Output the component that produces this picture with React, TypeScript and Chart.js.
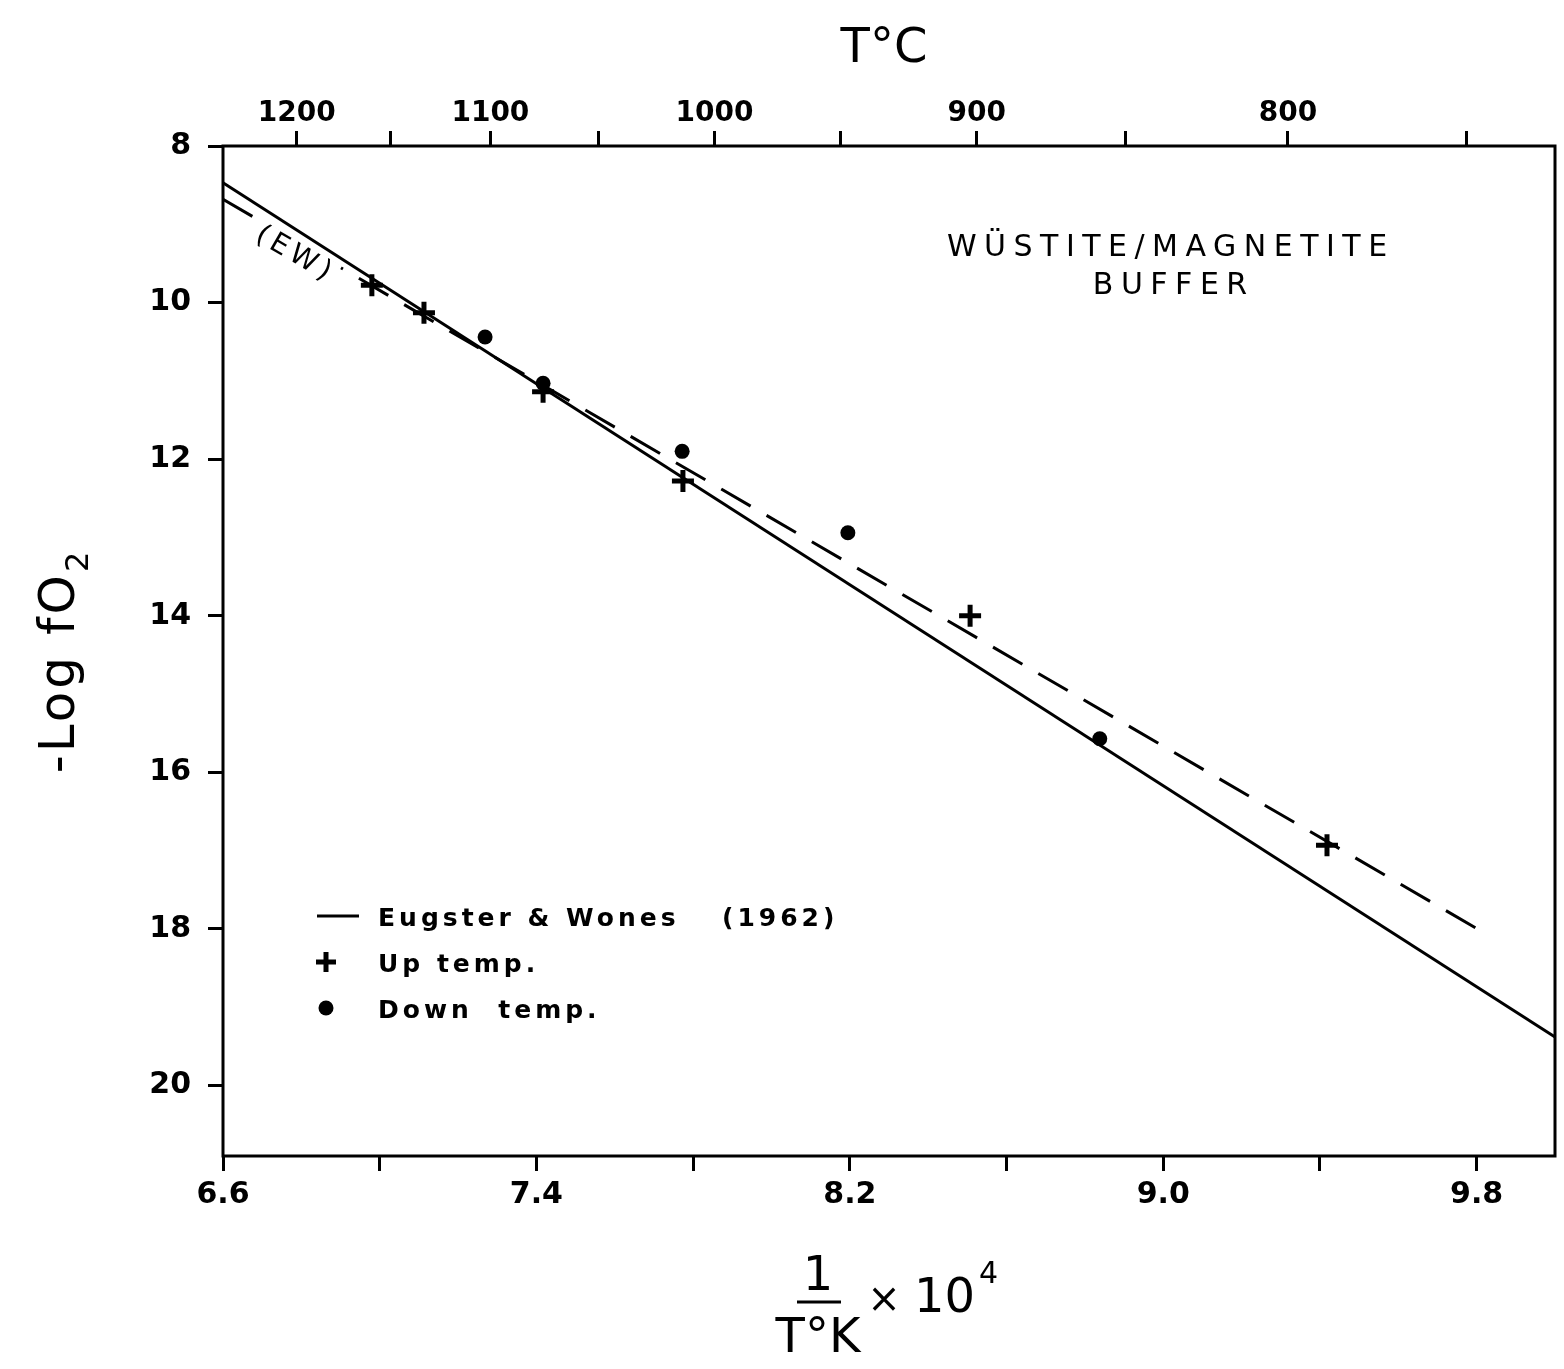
import React, { useEffect, useRef } from 'react';
import { Chart, registerables } from 'chart.js';

Chart.register(...registerables);

// ---- data ----
const upTempX = [6.98, 7.113, 7.417, 7.774, 8.507, 9.418];
const upTempY = [9.78, 10.13, 11.14, 12.28, 14.0, 16.93];
const downTempX = [7.269, 7.417, 7.772, 8.195, 8.838];
const downTempY = [10.44, 11.03, 11.9, 12.94, 15.57];
const ewLineX = [6.6, 10.0];
const ewLineY = [8.47, 19.38];
const fitLineX = [6.6, 9.816];
const fitLineY = [8.68, 18.04];

// ---- ticks ----
const bottomTicks = [6.6, 7.0, 7.4, 7.8, 8.2, 8.6, 9.0, 9.4, 9.8];
const bottomTickLabels = ['6.6', '', '7.4', '', '8.2', '', '9.0', '', '9.8'];
const leftTicks = [8, 10, 12, 14, 16, 18, 20];
const leftTickLabels = ['8', '10', '12', '14', '16', '18', '20'];
const topTempsC = [1200, 1150, 1100, 1050, 1000, 950, 900, 850, 800, 750];
const topTickLabels = ['1200', '', '1100', '', '1000', '', '900', '', '800', ''];

const FONT = 'DejaVu Sans';

function txt(ctx: CanvasRenderingContext2D, s: string, x: number, y: number, font: string, spacing: number, align: CanvasTextAlign = 'left') {
  ctx.save();
  ctx.font = font;
  (ctx as any).letterSpacing = spacing + 'px';
  ctx.textAlign = align;
  ctx.textBaseline = 'alphabetic';
  ctx.fillStyle = '#000';
  let dx = 0;
  if (align === 'center') dx = spacing / 2;
  ctx.fillText(s, x + dx, y);
  ctx.restore();
}

const decorPlugin = {
  id: 'decor',
  afterDatasetsDraw(chart: any) {
    const ctx: CanvasRenderingContext2D = chart.ctx;
    const { left, right, top, bottom } = chart.chartArea;
    const xs = chart.scales.x;
    const ys = chart.scales.y;

    // (EW) label along the dashed line
    const ax = xs.getPixelForValue(fitLineX[0]);
    const ay = ys.getPixelForValue(fitLineY[0]);
    const bx = xs.getPixelForValue(fitLineX[1]);
    const by = ys.getPixelForValue(fitLineY[1]);
    const ang = Math.atan2(by - ay, bx - ax);
    const lx = xs.getPixelForValue(6.78);
    const ly = ys.getPixelForValue(9.38);
    ctx.save();
    ctx.translate(lx, ly);
    ctx.rotate(ang);
    ctx.fillStyle = '#fff';
    ctx.fillRect(-48, -14, 96, 28);
    ctx.fillStyle = '#000';
    ctx.font = `28px "${FONT}"`;
    (ctx as any).letterSpacing = '5px';
    ctx.textAlign = 'center';
    ctx.textBaseline = 'middle';
    ctx.fillText('(EW)', 2, 0);
    ctx.restore();

    // frame
    ctx.save();
    ctx.strokeStyle = '#000';
    ctx.lineWidth = 3;
    ctx.strokeRect(left, top, right - left, bottom - top);
    ctx.restore();
  },
  afterDraw(chart: any) {
    const ctx: CanvasRenderingContext2D = chart.ctx;

    // Annotation
    txt(ctx, 'WÜSTITE/MAGNETITE', 1167, 256, `30px "${FONT}"`, 7.5, 'center');
    txt(ctx, 'BUFFER', 1170, 294, `30px "${FONT}"`, 7.5, 'center');

    // Top title
    txt(ctx, 'T°C', 884, 62, `48px "${FONT}"`, 0, 'center');

    // Left title, rotated
    ctx.save();
    ctx.translate(74, 660);
    ctx.rotate(-Math.PI / 2);
    ctx.fillStyle = '#000';
    (ctx as any).letterSpacing = '3px';
    ctx.font = `50px "${FONT}"`;
    const main = '-Log fO';
    const wMain = ctx.measureText(main).width;
    ctx.font = `32px "${FONT}"`;
    const wSub = ctx.measureText('2').width;
    const start = -(wMain + wSub + 2) / 2;
    ctx.font = `50px "${FONT}"`;
    ctx.textBaseline = 'alphabetic';
    ctx.textAlign = 'left';
    ctx.fillText(main, start, 0);
    ctx.font = `32px "${FONT}"`;
    ctx.fillText('2', start + wMain, 14);
    ctx.restore();

    // Bottom title: 1 / T°K x 10^4
    txt(ctx, '1', 818, 1290, `48px "${FONT}"`, 0, 'center');
    ctx.save();
    ctx.strokeStyle = '#000';
    ctx.lineWidth = 3;
    ctx.beginPath();
    ctx.moveTo(797, 1302);
    ctx.lineTo(841, 1302);
    ctx.stroke();
    ctx.restore();
    txt(ctx, 'T°K', 818, 1352, `48px "${FONT}"`, 0, 'center');
    txt(ctx, '×', 884, 1312, `40px "${FONT}"`, 0, 'center');
    txt(ctx, '10', 914, 1312, `48px "${FONT}"`, 0, 'left');
    txt(ctx, '4', 979, 1283, `30px "${FONT}"`, 0, 'left');

    // Legend
    ctx.save();
    ctx.strokeStyle = '#000';
    ctx.lineWidth = 3;
    ctx.beginPath();
    ctx.moveTo(317, 916);
    ctx.lineTo(359, 916);
    ctx.stroke();
    ctx.lineWidth = 5;
    ctx.beginPath();
    ctx.moveTo(316, 962);
    ctx.lineTo(336, 962);
    ctx.moveTo(326, 952);
    ctx.lineTo(326, 972);
    ctx.stroke();
    ctx.fillStyle = '#000';
    ctx.beginPath();
    ctx.arc(326, 1008, 7.5, 0, Math.PI * 2);
    ctx.fill();
    ctx.restore();
    txt(ctx, 'Eugster & Wones', 378, 926, `bold 25px "${FONT}"`, 4, 'left');
    txt(ctx, '(1962)', 722, 926, `bold 25px "${FONT}"`, 4, 'left');
    txt(ctx, 'Up temp.', 378, 972, `bold 25px "${FONT}"`, 4, 'left');
    txt(ctx, 'Down  temp.', 378, 1018, `bold 25px "${FONT}"`, 4, 'left');
  },
};

export default function App() {
  const ref = useRef<HTMLCanvasElement | null>(null);

  useEffect(() => {
    if (!ref.current) return;
    const tickFont = { family: FONT, size: 30, weight: 'bold' as const };
    const grid = {
      display: true,
      drawOnChartArea: false,
      drawTicks: true,
      tickLength: 15,
      tickWidth: 3,
      tickColor: '#000',
      lineWidth: 3,
      color: '#000',
    };
    const chart = new Chart(ref.current, {
      type: 'scatter',
      data: {
        datasets: [
          {
            type: 'line',
            label: 'Eugster & Wones (1962)',
            data: ewLineX.map((x, i) => ({ x, y: ewLineY[i] })),
            borderColor: '#000',
            borderWidth: 3,
            pointRadius: 0,
            fill: false,
          },
          {
            type: 'line',
            label: 'Fit',
            data: fitLineX.map((x, i) => ({ x, y: fitLineY[i] })),
            borderColor: '#000',
            borderWidth: 3,
            borderDash: [34, 18.4],
            pointRadius: 0,
            fill: false,
          },
          {
            label: 'Up temp.',
            data: upTempX.map((x, i) => ({ x, y: upTempY[i] })),
            pointStyle: 'cross',
            pointRadius: 11,
            borderWidth: 5,
            borderColor: '#000',
            backgroundColor: '#000',
          },
          {
            label: 'Down temp.',
            data: downTempX.map((x, i) => ({ x, y: downTempY[i] })),
            pointStyle: 'circle',
            pointRadius: 7.5,
            borderWidth: 0,
            borderColor: '#000',
            backgroundColor: '#000',
          },
        ],
      },
      options: {
        responsive: false,
        animation: false,
        devicePixelRatio: 1,
        layout: { autoPadding: false, padding: { left: 0, right: 9, top: 0, bottom: 0 } },
        plugins: {
          legend: { display: false },
          tooltip: { enabled: false },
          title: { display: false },
        },
        scales: {
          x: {
            type: 'linear',
            position: 'bottom',
            min: 6.6,
            max: 10.0,
            grid,
            border: { display: false },
            afterBuildTicks: (axis: any) => {
              axis.ticks = bottomTicks.map((v) => ({ value: v }));
            },
            afterFit: (scale: any) => {
              scale.height = 213;
            },
            ticks: {
              autoSkip: false,
              maxRotation: 0,
              padding: 6,
              color: '#000',
              font: tickFont,
              callback: (_v: any, i: number) => bottomTickLabels[i],
            },
          },
          xTop: {
            type: 'linear',
            position: 'top',
            min: 6.6,
            max: 10.0,
            grid,
            border: { display: false },
            afterBuildTicks: (axis: any) => {
              axis.ticks = topTempsC.map((c) => ({ value: 1e4 / (c + 273.15) }));
            },
            afterFit: (scale: any) => {
              scale.height = 146;
            },
            ticks: {
              autoSkip: false,
              maxRotation: 0,
              padding: 0,
              color: '#000',
              font: { family: FONT, size: 28, weight: 'bold' as const },
              callback: (_v: any, i: number) => topTickLabels[i],
            },
          },
          y: {
            type: 'linear',
            position: 'left',
            reverse: true,
            min: 8,
            max: 20.9,
            grid,
            border: { display: false },
            afterBuildTicks: (axis: any) => {
              axis.ticks = leftTicks.map((v) => ({ value: v }));
            },
            afterFit: (scale: any) => {
              scale.width = 223;
            },
            ticks: {
              autoSkip: false,
              padding: 17,
              color: '#000',
              font: tickFont,
              callback: (_v: any, i: number) => leftTickLabels[i],
            },
          },
        },
      },
      plugins: [decorPlugin],
    } as any);
    return () => chart.destroy();
  }, []);

  return (
    <div style={{ position: 'absolute', left: 0, top: 0, width: 1564, height: 1369, background: '#fff' }}>
      <canvas ref={ref} width={1564} height={1369} style={{ display: 'block' }} />
    </div>
  );
}
